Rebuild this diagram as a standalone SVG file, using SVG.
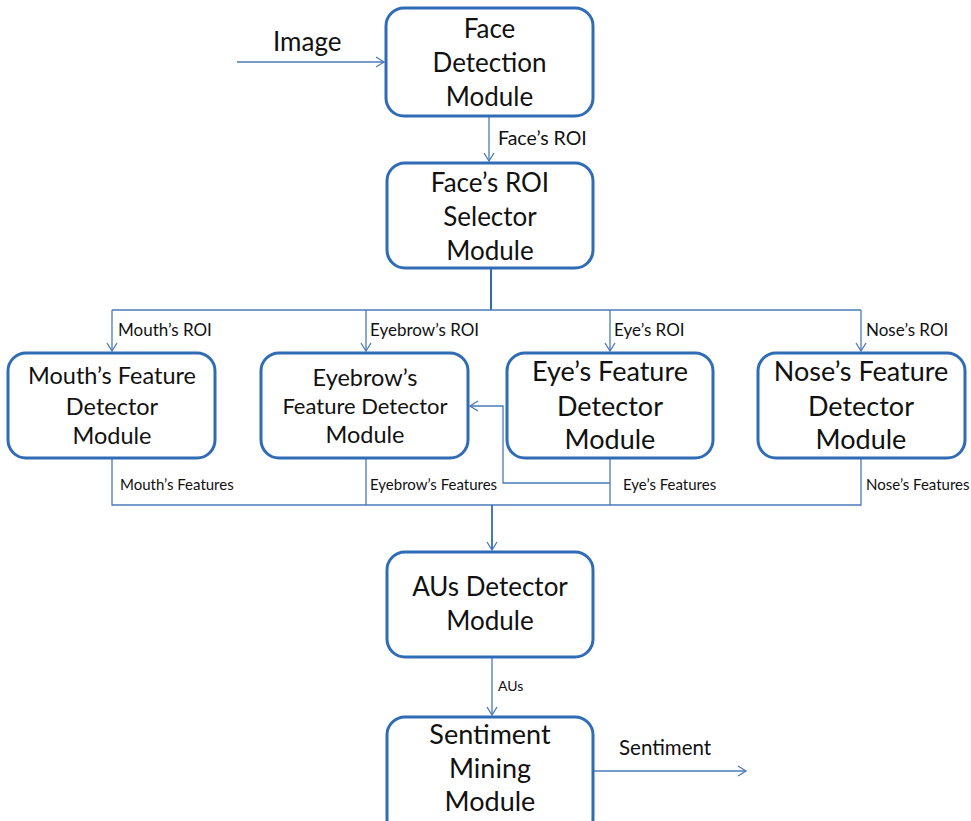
<svg xmlns="http://www.w3.org/2000/svg" width="971" height="821" viewBox="0 0 971 821">
<defs>
<marker id="ah" markerWidth="12" markerHeight="12" refX="10" refY="6" orient="auto" markerUnits="userSpaceOnUse">
<path d="M2,1 L10,6 L2,11" fill="none" stroke="#4a7ab8" stroke-width="1.3"/>
</marker>
<style>
.box{fill:#fff;stroke:#2f6cb5;stroke-width:3}
.t{font-family:Lato,"Liberation Sans",sans-serif;font-size:26px;fill:#111;text-anchor:middle}
.m{font-family:Lato,"Liberation Sans",sans-serif;font-size:23.5px;fill:#111;text-anchor:middle}
.l{font-family:Lato,"Liberation Sans",sans-serif;fill:#111}
.c{fill:none;stroke:#4a7ab8;stroke-width:1.3}
</style>
</defs>
<rect width="971" height="821" fill="#fff"/>
<g id="connectors">
<path class="c" d="M237,62 H384" marker-end="url(#ah)"/>
<path class="c" d="M489,117 V161" marker-end="url(#ah)"/>
<path class="c" d="M491,269 V310" style="stroke:#2f6cb5;stroke-width:2"/>
<path class="c" d="M112,310 H861"/>
<path class="c" d="M112,310 V351" marker-end="url(#ah)"/>
<path class="c" d="M366,310 V351" marker-end="url(#ah)"/>
<path class="c" d="M610,310 V351" marker-end="url(#ah)"/>
<path class="c" d="M861,310 V351" marker-end="url(#ah)"/>
<path class="c" d="M112,459 V505 H861 V459"/>
<path class="c" d="M366,459 V505"/>
<path class="c" d="M610,459 V505"/>
<path class="c" d="M610,483 H503 V406 H470" marker-end="url(#ah)"/>
<path class="c" d="M492,505 V550" marker-end="url(#ah)" style="stroke:#2f6cb5;stroke-width:1.8"/>
<path class="c" d="M492,658 V715" marker-end="url(#ah)"/>
<path class="c" d="M594,771 H746" marker-end="url(#ah)"/>
<text class="l" x="273" y="51" font-size="26">Image</text>
<text class="l" x="498" y="145" font-size="19.5">Face’s ROI</text>
<text class="l" x="118" y="336" font-size="17">Mouth’s ROI</text>
<text class="l" x="370" y="336" font-size="17">Eyebrow’s ROI</text>
<text class="l" x="614" y="336" font-size="17">Eye’s ROI</text>
<text class="l" x="866" y="336" font-size="17">Nose’s ROI</text>
<text class="l" x="120" y="490" font-size="15">Mouth’s Features</text>
<text class="l" x="370" y="490" font-size="15">Eyebrow’s Features</text>
<text class="l" x="623" y="490" font-size="15">Eye’s Features</text>
<text class="l" x="866" y="490" font-size="15">Nose’s Features</text>
<text class="l" x="498" y="691" font-size="14">AUs</text>
<text class="l" x="619" y="755" font-size="20.5">Sentiment</text>
</g>
<g id="face-detection">
<rect class="box" x="386" y="8" width="207" height="108" rx="18"/>
<text class="t" x="489.5" y="38">Face</text>
<text class="t" x="489.5" y="72">Detection</text>
<text class="t" x="489.5" y="106">Module</text>
</g>
<g id="roi-selector">
<rect class="box" x="387" y="163" width="206" height="105" rx="18"/>
<text class="t" x="490" y="192">Face’s ROI</text>
<text class="t" x="490" y="226">Selector</text>
<text class="t" x="490" y="260">Module</text>
</g>
<g id="mouth">
<rect class="box" x="8" y="353" width="207" height="105" rx="18"/>
<text class="m" x="112" y="384">Mouth’s Feature</text>
<text class="m" x="112" y="415">Detector</text>
<text class="m" x="112" y="444">Module</text>
</g>
<g id="eyebrow">
<rect class="box" x="261" y="353" width="207" height="105" rx="18"/>
<text class="m" x="365" y="386" font-size="22">Eyebrow’s</text>
<text class="m" x="365" y="414" style="font-size:22px">Feature Detector</text>
<text class="m" x="365" y="443">Module</text>
</g>
<g id="eye">
<rect class="box" x="507" y="353" width="206" height="105" rx="18"/>
<text class="t" x="610" y="381" style="font-size:27px">Eye’s Feature</text>
<text class="t" x="610" y="416" style="font-size:27px">Detector</text>
<text class="t" x="610" y="449" style="font-size:27px">Module</text>
</g>
<g id="nose">
<rect class="box" x="758" y="353" width="207" height="105" rx="18"/>
<text class="t" x="861" y="381" style="font-size:27px">Nose’s Feature</text>
<text class="t" x="861" y="416" style="font-size:27px">Detector</text>
<text class="t" x="861" y="449" style="font-size:27px">Module</text>
</g>
<g id="aus">
<rect class="box" x="387" y="552" width="206" height="105" rx="18"/>
<text class="t" x="490" y="596">AUs Detector</text>
<text class="t" x="490" y="630">Module</text>
</g>
<g id="sentiment">
<rect class="box" x="387" y="717" width="206" height="120" rx="18"/>
<text class="t" x="490" y="744" style="font-size:27px">Sentiment</text>
<text class="t" x="490" y="778" style="font-size:27px">Mining</text>
<text class="t" x="490" y="811" style="font-size:27px">Module</text>
</g>
</svg>
